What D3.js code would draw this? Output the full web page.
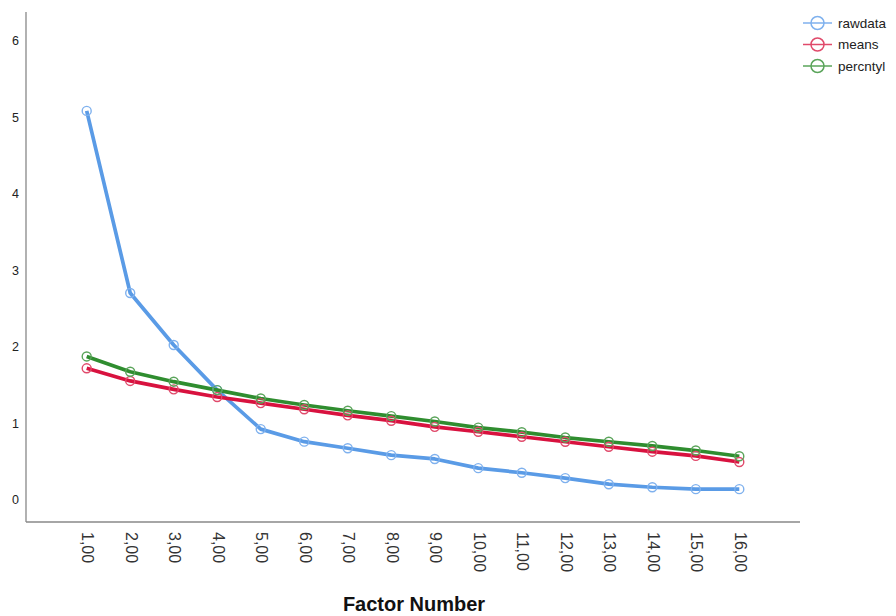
<!DOCTYPE html>
<html><head><meta charset="utf-8">
<script src="https://cdn.jsdelivr.net/npm/d3@7"></script>
<style>body{margin:0;background:#fff}svg{display:block}</style>
</head><body>
<script>
const factors = [1,2,3,4,5,6,7,8,9,10,11,12,13,14,15,16];
const rawdata = [5.08,2.70,2.02,1.43,0.92,0.756,0.67,0.58,0.53,0.41,0.35,0.28,0.20,0.16,0.135,0.135];
const means = [1.715,1.55,1.44,1.34,1.26,1.18,1.10,1.03,0.95,0.886,0.82,0.755,0.69,0.625,0.57,0.49];
const percntyl = [1.87,1.67,1.54,1.43,1.32,1.235,1.16,1.09,1.02,0.94,0.88,0.81,0.755,0.70,0.64,0.565];
const yTicks = [0,1,2,3,4,5,6];
const seriesNames = ["rawdata","means","percntyl"];
const seriesColors = ["#5a9be6","#d8123f","#2f8d2f"];
const markerColors = ["#7fb1ee","#e04a6b","#5aa45a"];

const W=896,H=616;
const svg=d3.select("body").append("svg").attr("width",W).attr("height",H);
const x=d3.scaleLinear().domain([1,16]).range([86.7,739.3]);
const y=d3.scaleLinear().domain([0,6]).range([499.5,40.5]);
const axisX0=26, axisX1=800, axisY=522, axisTop=12;

// axes
const yAxis=d3.axisLeft(y).tickValues(yTicks).tickFormat(d3.format("d")).tickSize(0).tickPadding(7);
const gy=svg.append("g").attr("transform",`translate(${axisX0},0)`).call(yAxis);
gy.select(".domain").remove();
gy.selectAll("text").attr("font-family","Liberation Sans, Arial, sans-serif").attr("font-size",12.5).attr("fill","#222");
svg.append("line").attr("x1",axisX0).attr("x2",axisX0).attr("y1",axisTop).attr("y2",axisY).attr("stroke","#888").attr("stroke-width",1.3);

const xAxis=d3.axisBottom(x).tickValues(factors).tickFormat(d=>d+",00").tickSize(0);
const gx=svg.append("g").attr("transform",`translate(0,${axisY})`).call(xAxis);
gx.select(".domain").remove();
gx.selectAll("text")
  .attr("font-family","Liberation Sans, Arial, sans-serif").attr("font-size",16).attr("fill","#333")
  .attr("transform","rotate(90)").attr("text-anchor","start")
  .attr("x",10).attr("y",0).attr("dy","0.32em");
svg.append("line").attr("x1",axisX0).attr("x2",axisX1).attr("y1",axisY).attr("y2",axisY).attr("stroke","#888").attr("stroke-width",1.3);

svg.append("text").attr("x",414).attr("y",611).attr("text-anchor","middle")
  .attr("font-family","Liberation Sans, Arial, sans-serif").attr("font-weight","bold").attr("font-size",20)
  .attr("fill","#111").text("Factor Number");

// series
const allSeries=[rawdata,means,percntyl];
const line=d3.line().x((d,i)=>x(factors[i])).y(d=>y(d));
allSeries.forEach((s,k)=>{
  svg.append("path").datum(s).attr("d",line).attr("fill","none")
    .attr("stroke",seriesColors[k]).attr("stroke-width",3.7).attr("stroke-linejoin","round");
});
allSeries.forEach((s,k)=>{
  svg.append("g").selectAll("circle").data(s).join("circle")
    .attr("cx",(d,i)=>x(factors[i])).attr("cy",d=>y(d)).attr("r",4.5)
    .attr("fill","none").attr("stroke",markerColors[k]).attr("stroke-width",1.4);
});

// legend
const lg=svg.append("g");
seriesNames.forEach((n,k)=>{
  const ly=23+k*21.5;
  lg.append("line").attr("x1",803).attr("x2",832).attr("y1",ly).attr("y2",ly).attr("stroke",markerColors[k]).attr("stroke-width",1.5);
  lg.append("circle").attr("cx",817.5).attr("cy",ly).attr("r",6.5).attr("fill","none").attr("stroke",markerColors[k]).attr("stroke-width",1.5);
  lg.append("text").attr("x",838).attr("y",ly).attr("dy","0.35em")
    .attr("font-family","Liberation Sans, Arial, sans-serif").attr("font-size",13.5).attr("fill","#222").text(n);
});
</script>
</body></html>
